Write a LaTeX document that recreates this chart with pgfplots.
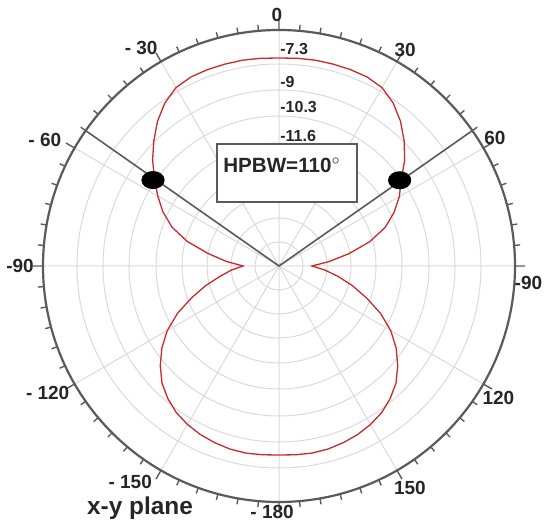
\documentclass[border=0pt]{standalone}
\usepackage{pgfplots}
\pgfplotsset{compat=1.18}
\usepgfplotslibrary{polar}
\usepackage{pgfplotstable}
\usepackage{fontspec}
\setmainfont{Liberation Sans}

\definecolor{patred}{RGB}{205,40,40}
\definecolor{gridgray}{RGB}{218,218,218}
\definecolor{axisgray}{RGB}{90,90,90}

% pattern in the x-y plane: angle from top (clockwise), radius in plot units
\pgfplotstableread{
a r
-180 189
-175 189.5
-170 190
-165 189.5
-160 188
-155 186
-150 183
-145 179
-140 173
-135 165.5
-130 155
-125 143
-120 129
-115 112
-110 93
-105 76
-100 60
-95 48
-90 36
-85 53
-80 72
-75 95
-70 114
-65 128
-60 140
-55 152
-50 165
-45 177
-40 189
-35 199
-30 206
-25 208.5
-20 209
-15 209
-10 209
-5 208.5
0 208
5 208.5
10 209
15 209
20 209
25 208.5
30 206
35 199
40 189
45 177
50 164
55 149
60 139
65 127
70 113
75 94
80 71
85 50
90 33
95 46
100 60
105 76
110 93
115 112
120 129
125 143
130 155
135 165.5
140 173
145 179
150 183
155 186
160 188
165 189.5
170 190
175 189.5
180 189
}\xydata

\begin{document}
\begin{tikzpicture}[lab/.style={font=\fontsize{9.5}{11}\selectfont\bfseries, text=black!85}]
\begin{polaraxis}[
  scale only axis, width=236pt, height=236pt,
  xmin=0, xmax=360, ymin=0, ymax=236,
  xtick={0,30,...,330}, xticklabels={},
  minor x tick num=5,
  ytick={24,48,72,97,123,150,176,202}, yticklabels={},
  ytick style={draw=none},
  y axis line style={draw=none},
  xmajorgrids, ymajorgrids,
  major grid style={gridgray, line width=0.5pt},
  axis line style={axisgray, line width=1.1pt},
  xtick style={axisgray, line width=0.7pt},
  major tick length=5pt, minor tick length=3pt,
  clip=false,
]
\coordinate (c) at (axis cs:0,0);

\addplot[patred, line width=0.65pt] table[x expr=90-\thisrow{a}, y=r] {\xydata};

\addplot[axisgray, line width=0.8pt] coordinates {(35,236) (0,0) (145,236)};

\addplot[only marks, mark=*, black, mark size=4.3pt, mark options={xscale=1.3}]
  coordinates {(35.4,148) (145.7,152.5)};

\node[lab] at (axis cs:90.5,251) {0};
\node[lab] at (axis cs:59.7,250) {30};
\node[lab] at (axis cs:122.3,258) {- 30};
\node[lab] at (axis cs:30.7,251) {60};
\node[lab] at (axis cs:151.7,266) {- 60};
\node[lab] at (axis cs:180,259) {-90};
\node[lab] at (axis cs:-3.9,250) {-90};
\node[lab] at (axis cs:-31,256) {120};
\node[lab] at (axis cs:208.8,264) {- 120};
\node[lab] at (axis cs:-59.5,258) {150};
\node[lab] at (axis cs:235.4,262) {- 150};
\node[lab] at (axis cs:268.4,246) {- 180};

\node[anchor=west, inner sep=0.5pt, font=\fontsize{8}{9}\selectfont\bfseries, text=black!85] at (axis cs:90,217) {-7.3};
\node[anchor=west, inner sep=0.5pt, font=\fontsize{8}{9}\selectfont\bfseries, text=black!85] at (axis cs:90,184) {-9};
\node[anchor=west, inner sep=0.5pt, font=\fontsize{8}{9}\selectfont\bfseries, text=black!85] at (axis cs:90,159) {-10.3};
\node[anchor=west, inner sep=0.5pt, font=\fontsize{8}{9}\selectfont\bfseries, text=black!85] at (axis cs:90,130) {-11.6};
\end{polaraxis}

\node[draw=axisgray, line width=0.8pt, fill=white, minimum width=70pt, minimum height=29pt, inner sep=0pt]
  at ([shift={(4pt,46.5pt)}]c) {};
\node[font=\fontsize{10.3}{12}\selectfont\bfseries, text=black!85] at ([shift={(1.5pt,50.5pt)}]c) {HPBW=110\textsuperscript{$\circ$}};
\node[font=\fontsize{12.2}{14}\selectfont\bfseries, text=black!85] at ([shift={(-69.5pt,-121pt)}]c) {x-y plane};

\pgfresetboundingbox
\path[use as bounding box] ([shift={(-139.5pt,-131.5pt)}]c) rectangle ([shift={(135.5pt,133pt)}]c);
\end{tikzpicture}
\end{document}
